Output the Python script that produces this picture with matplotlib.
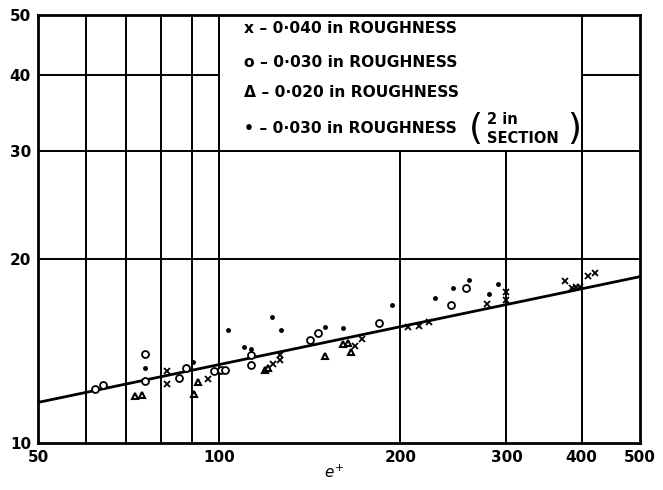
import matplotlib.pyplot as plt
from matplotlib.patches import Rectangle

# data (e+ vs value, log-log)
x40_x = [81.8, 81.8, 95.9, 122.7, 126.2, 126.2, 168.2, 172.5, 206, 215, 223,
         278, 300, 300, 376, 385, 392, 398, 410, 421]
x40_y = [13.1, 12.5, 12.74, 13.44, 13.69, 13.9, 14.4, 14.77, 15.48, 15.54, 15.79,
         16.87, 17.63, 17.1, 18.42, 17.9, 17.97, 17.97, 18.77, 18.97]

o30_x = [62.2, 64.0, 75.4, 75.4, 85.8, 88.0, 98.2, 100.7, 102.3, 112.8, 112.8,
         141.5, 146.1, 184.5, 242.5, 257]
o30_y = [12.27, 12.45, 14.0, 12.65, 12.76, 13.24, 13.1, 13.15, 13.17, 13.95, 13.39,
         14.71, 15.1, 15.68, 16.82, 17.92]

t20_x = [72.5, 74.3, 90.8, 92.3, 119.2, 120.7, 150, 160.7, 163.8, 165.3]
t20_y = [11.95, 12.0, 12.04, 12.57, 13.18, 13.27, 13.87, 14.49, 14.59, 14.08]

d30_x = [75.2, 90.3, 103.6, 110.1, 112.9, 122.5, 126.5, 150, 160.7, 193.9,
         228.3, 244.9, 260, 280.7, 290.8]
d30_y = [13.27, 13.58, 15.3, 14.37, 14.26, 16.07, 15.29, 15.48, 15.4, 16.8,
         17.23, 17.92, 18.47, 17.52, 18.19]

line_x = [50, 500]
line_y = [11.65, 18.7]

xgrid = [60, 70, 80, 90, 100, 200, 300, 400]
ygrid = [20, 30, 40]
xticks = [50, 100, 200, 300, 400, 500]
yticks = [10, 20, 30, 40, 50]

fig = plt.figure(figsize=(6.63, 4.9), dpi=100)
ax = fig.add_axes([0.0573, 0.0959, 0.908, 0.873])
ax.set_xscale('log')
ax.set_yscale('log')
ax.set_xlim(50, 500)
ax.set_ylim(10, 50)

for g in xgrid:
    ax.axvline(g, color='black', lw=1.4, zorder=1)
for g in ygrid:
    ax.axhline(g, color='black', lw=1.4, zorder=1)

# legend box drawn over the grid
ax.add_patch(Rectangle((100, 30), 300, 20, facecolor='white', edgecolor='black',
                       lw=1.4, zorder=2))

ax.plot(line_x, line_y, color='black', lw=2, zorder=3)
ax.plot(x40_x, x40_y, 'x', color='black', ms=5, mew=1.3, zorder=4)
ax.plot(o30_x, o30_y, 'o', mfc='white', mec='black', ms=5, mew=1.3, zorder=4)
ax.plot(t20_x, t20_y, '^', mfc='white', mec='black', ms=5, mew=1.5, zorder=4)
ax.plot(d30_x, d30_y, 'o', color='black', ms=2.5, zorder=4)

ax.set_xticks(xticks)
ax.set_xticklabels([str(t) for t in xticks])
ax.set_yticks(yticks)
ax.set_yticklabels([str(t) for t in yticks])
ax.minorticks_off()
ax.tick_params(length=0, pad=5, labelsize=11)
for lab in ax.get_xticklabels() + ax.get_yticklabels():
    lab.set_fontweight('bold')
for s in ax.spines.values():
    s.set_linewidth(2)
    s.set_zorder(5)

tk = dict(transform=ax.transAxes, fontsize=11.2, fontweight='bold', va='center', zorder=6)
ax.text(0.343, 0.970, 'x – 0·040 in ROUGHNESS', **tk)
ax.text(0.343, 0.890, 'o – 0·030 in ROUGHNESS', **tk)
ax.text(0.343, 0.820, 'Δ – 0·020 in ROUGHNESS', **tk)
ax.text(0.343, 0.736, '• – 0·030 in ROUGHNESS', **tk)
ax.text(0.715, 0.733, '(', transform=ax.transAxes, fontsize=26, va='center', zorder=6)
ax.text(0.746, 0.757, '2 in', transform=ax.transAxes, fontsize=10.5, fontweight='bold',
        va='center', zorder=6)
ax.text(0.746, 0.713, 'SECTION', transform=ax.transAxes, fontsize=10.5, fontweight='bold',
        va='center', zorder=6)
ax.text(0.879, 0.733, ')', transform=ax.transAxes, fontsize=26, va='center', zorder=6)

fig.text(0.503, 0.025, r'$e^{+}$', fontsize=11, ha='center')

fig.savefig('out.png', dpi=100)
